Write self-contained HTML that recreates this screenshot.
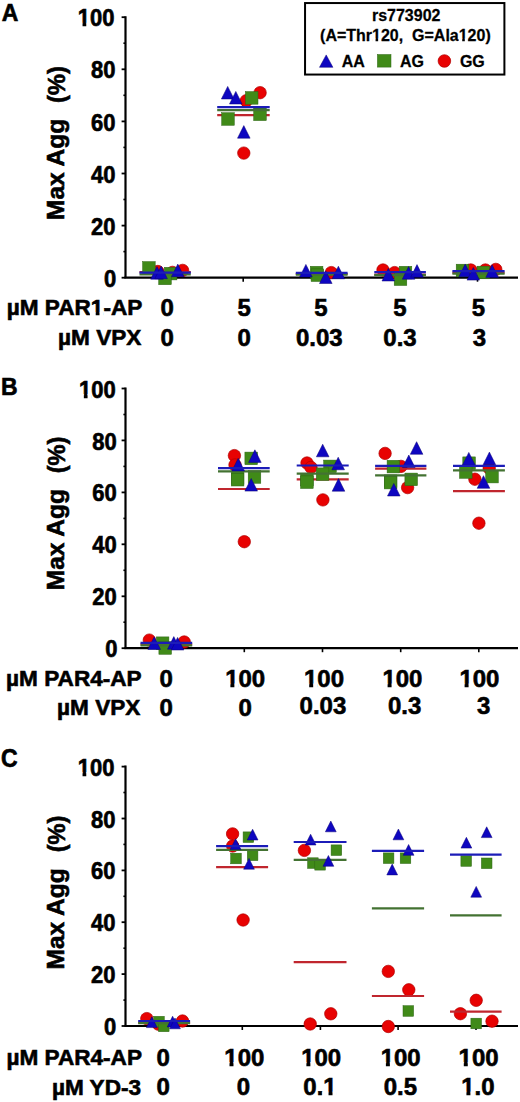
<!DOCTYPE html>
<html><head><meta charset="utf-8"><style>
html,body{margin:0;padding:0;background:#fff;width:520px;height:1102px;overflow:hidden}
svg{display:block}
</style></head><body>
<svg width="520" height="1102" viewBox="0 0 520 1102">
<g font-family='"Liberation Sans", sans-serif' font-weight="bold" fill="#000" stroke="#000" stroke-width="0.6">
<line x1="125.5" y1="16.2" x2="125.5" y2="277.7" stroke="#000" stroke-width="2.2"/>
<line x1="124.4" y1="277.7" x2="518" y2="277.7" stroke="#000" stroke-width="2.2"/>
<line x1="121.6" y1="277.7" x2="125.5" y2="277.7" stroke="#000" stroke-width="1.8"/>
<g transform="translate(116.30 286.80) scale(1.0 1.06)"><text font-size="22" text-anchor="end" >0</text>
</g>
<line x1="123.4" y1="251.6" x2="125.5" y2="251.6" stroke="#000" stroke-width="1.6"/>
<line x1="121.6" y1="225.6" x2="125.5" y2="225.6" stroke="#000" stroke-width="1.8"/>
<g transform="translate(115.40 234.70) scale(1.0 1.06)"><text font-size="22" text-anchor="end" >20</text>
</g>
<line x1="123.4" y1="199.5" x2="125.5" y2="199.5" stroke="#000" stroke-width="1.6"/>
<line x1="121.6" y1="173.5" x2="125.5" y2="173.5" stroke="#000" stroke-width="1.8"/>
<g transform="translate(115.40 182.60) scale(1.0 1.06)"><text font-size="22" text-anchor="end" >40</text>
</g>
<line x1="123.4" y1="147.4" x2="125.5" y2="147.4" stroke="#000" stroke-width="1.6"/>
<line x1="121.6" y1="121.4" x2="125.5" y2="121.4" stroke="#000" stroke-width="1.8"/>
<g transform="translate(115.40 130.50) scale(1.0 1.06)"><text font-size="22" text-anchor="end" >60</text>
</g>
<line x1="123.4" y1="95.3" x2="125.5" y2="95.3" stroke="#000" stroke-width="1.6"/>
<line x1="121.6" y1="69.3" x2="125.5" y2="69.3" stroke="#000" stroke-width="1.8"/>
<g transform="translate(115.40 78.40) scale(1.0 1.06)"><text font-size="22" text-anchor="end" >80</text>
</g>
<line x1="123.4" y1="43.2" x2="125.5" y2="43.2" stroke="#000" stroke-width="1.6"/>
<line x1="121.6" y1="17.2" x2="125.5" y2="17.2" stroke="#000" stroke-width="1.8"/>
<g transform="translate(114.50 26.30) scale(1.0 1.06)"><text font-size="22" text-anchor="end" id="t0" >100</text>
<rect x="-37.59" y="-3.27" width="5.63" height="4.82" fill="#fff" stroke="none"/>
<rect x="-28.24" y="-3.27" width="4.09" height="4.82" fill="#fff" stroke="none"/>
</g>
<line x1="165.1" y1="277.7" x2="165.1" y2="281.7" stroke="#000" stroke-width="1.6"/>
<line x1="243.2" y1="277.7" x2="243.2" y2="281.7" stroke="#000" stroke-width="1.6"/>
<line x1="321.3" y1="277.7" x2="321.3" y2="281.7" stroke="#000" stroke-width="1.6"/>
<line x1="399.4" y1="277.7" x2="399.4" y2="281.7" stroke="#000" stroke-width="1.6"/>
<line x1="477.5" y1="277.7" x2="477.5" y2="281.7" stroke="#000" stroke-width="1.6"/>
<g transform="translate(1.80 21.00) scale(1.0 1.07)"><text font-size="23" text-anchor="start" >A</text>
</g>
<text x="0" y="0" font-size="24.5" text-anchor="start" transform="translate(64.2 219.97) rotate(-90)">Max Agg</text>
<text x="0" y="0" font-size="23.6" text-anchor="end" transform="translate(65.3 66.24) rotate(-90)">(%)</text>
<g transform="translate(142.30 315.30) scale(1.0 0.985)"><text font-size="22.6" text-anchor="end" id="t1" >&#181;M PAR1-AP</text>
<rect x="-52.38" y="-3.34" width="5.79" height="4.92" fill="#fff" stroke="none"/>
<rect x="-42.80" y="-3.34" width="4.20" height="4.92" fill="#fff" stroke="none"/>
</g>
<g transform="translate(141.40 344.50) scale(1.0 0.985)"><text font-size="22.6" text-anchor="end" >&#181;M VPX</text>
</g>
<g transform="translate(167.10 316.00) scale(1.0 1.02)"><text font-size="24" text-anchor="middle" >0</text>
</g>
<g transform="translate(244.10 316.00) scale(1.0 1.02)"><text font-size="24" text-anchor="middle" >5</text>
</g>
<g transform="translate(320.80 316.00) scale(1.0 1.02)"><text font-size="24" text-anchor="middle" >5</text>
</g>
<g transform="translate(400.00 316.00) scale(1.0 1.02)"><text font-size="24" text-anchor="middle" >5</text>
</g>
<g transform="translate(478.50 316.00) scale(1.0 1.02)"><text font-size="24" text-anchor="middle" >5</text>
</g>
<g transform="translate(167.10 346.00) scale(1.0 1.02)"><text font-size="24" text-anchor="middle" >0</text>
</g>
<g transform="translate(244.10 346.00) scale(1.0 1.02)"><text font-size="24" text-anchor="middle" >0</text>
</g>
<g transform="translate(319.30 346.00) scale(1.0 1.02)"><text font-size="24" text-anchor="middle" >0.03</text>
</g>
<g transform="translate(400.00 346.00) scale(1.0 1.02)"><text font-size="24" text-anchor="middle" >0.3</text>
</g>
<g transform="translate(479.40 346.00) scale(1.0 1.02)"><text font-size="24" text-anchor="middle" >3</text>
</g>
<line x1="125.5" y1="387.5" x2="125.5" y2="648.2" stroke="#000" stroke-width="2.2"/>
<line x1="124.4" y1="648.2" x2="518" y2="648.2" stroke="#000" stroke-width="2.2"/>
<line x1="121.6" y1="648.2" x2="125.5" y2="648.2" stroke="#000" stroke-width="1.8"/>
<g transform="translate(117.60 657.30) scale(1.0 1.06)"><text font-size="22" text-anchor="end" >0</text>
</g>
<line x1="123.4" y1="622.2" x2="125.5" y2="622.2" stroke="#000" stroke-width="1.6"/>
<line x1="121.6" y1="596.3" x2="125.5" y2="596.3" stroke="#000" stroke-width="1.8"/>
<g transform="translate(116.70 605.36) scale(1.0 1.06)"><text font-size="22" text-anchor="end" >20</text>
</g>
<line x1="123.4" y1="570.3" x2="125.5" y2="570.3" stroke="#000" stroke-width="1.6"/>
<line x1="121.6" y1="544.3" x2="125.5" y2="544.3" stroke="#000" stroke-width="1.8"/>
<g transform="translate(116.70 553.42) scale(1.0 1.06)"><text font-size="22" text-anchor="end" >40</text>
</g>
<line x1="123.4" y1="518.4" x2="125.5" y2="518.4" stroke="#000" stroke-width="1.6"/>
<line x1="121.6" y1="492.4" x2="125.5" y2="492.4" stroke="#000" stroke-width="1.8"/>
<g transform="translate(116.70 501.48) scale(1.0 1.06)"><text font-size="22" text-anchor="end" >60</text>
</g>
<line x1="123.4" y1="466.4" x2="125.5" y2="466.4" stroke="#000" stroke-width="1.6"/>
<line x1="121.6" y1="440.4" x2="125.5" y2="440.4" stroke="#000" stroke-width="1.8"/>
<g transform="translate(116.70 449.54) scale(1.0 1.06)"><text font-size="22" text-anchor="end" >80</text>
</g>
<line x1="123.4" y1="414.5" x2="125.5" y2="414.5" stroke="#000" stroke-width="1.6"/>
<line x1="121.6" y1="388.5" x2="125.5" y2="388.5" stroke="#000" stroke-width="1.8"/>
<g transform="translate(115.80 397.60) scale(1.0 1.06)"><text font-size="22" text-anchor="end" id="t2" >100</text>
<rect x="-37.59" y="-3.27" width="5.63" height="4.82" fill="#fff" stroke="none"/>
<rect x="-28.24" y="-3.27" width="4.09" height="4.82" fill="#fff" stroke="none"/>
</g>
<line x1="166.2" y1="648.2" x2="166.2" y2="652.2" stroke="#000" stroke-width="1.6"/>
<line x1="244.3" y1="648.2" x2="244.3" y2="652.2" stroke="#000" stroke-width="1.6"/>
<line x1="322.5" y1="648.2" x2="322.5" y2="652.2" stroke="#000" stroke-width="1.6"/>
<line x1="400.7" y1="648.2" x2="400.7" y2="652.2" stroke="#000" stroke-width="1.6"/>
<line x1="478.8" y1="648.2" x2="478.8" y2="652.2" stroke="#000" stroke-width="1.6"/>
<g transform="translate(1.00 395.20) scale(1.0 1.07)"><text font-size="23" text-anchor="start" >B</text>
</g>
<text x="0" y="0" font-size="24.5" text-anchor="start" transform="translate(64.2 590.27) rotate(-90)">Max Agg</text>
<text x="0" y="0" font-size="23.6" text-anchor="end" transform="translate(65.3 436.54) rotate(-90)">(%)</text>
<g transform="translate(141.70 685.80) scale(1.0 0.985)"><text font-size="22.6" text-anchor="end" >&#181;M PAR4-AP</text>
</g>
<g transform="translate(140.40 715.30) scale(1.0 0.985)"><text font-size="22.6" text-anchor="end" >&#181;M VPX</text>
</g>
<g transform="translate(166.20 687.20) scale(1.0 1.02)"><text font-size="24" text-anchor="middle" >0</text>
</g>
<g transform="translate(245.20 687.20) scale(1.0 1.02)"><text font-size="24" text-anchor="middle" id="t3" >100</text>
<rect x="-20.95" y="-3.52" width="6.14" height="5.17" fill="#fff" stroke="none"/>
<rect x="-10.83" y="-3.52" width="4.46" height="5.17" fill="#fff" stroke="none"/>
</g>
<g transform="translate(324.00 687.20) scale(1.0 1.02)"><text font-size="24" text-anchor="middle" id="t4" >100</text>
<rect x="-20.95" y="-3.52" width="6.14" height="5.17" fill="#fff" stroke="none"/>
<rect x="-10.83" y="-3.52" width="4.46" height="5.17" fill="#fff" stroke="none"/>
</g>
<g transform="translate(402.40 687.20) scale(1.0 1.02)"><text font-size="24" text-anchor="middle" id="t5" >100</text>
<rect x="-20.95" y="-3.52" width="6.14" height="5.17" fill="#fff" stroke="none"/>
<rect x="-10.83" y="-3.52" width="4.46" height="5.17" fill="#fff" stroke="none"/>
</g>
<g transform="translate(479.40 687.20) scale(1.0 1.02)"><text font-size="24" text-anchor="middle" id="t6" >100</text>
<rect x="-20.95" y="-3.52" width="6.14" height="5.17" fill="#fff" stroke="none"/>
<rect x="-10.83" y="-3.52" width="4.46" height="5.17" fill="#fff" stroke="none"/>
</g>
<g transform="translate(166.20 716.40) scale(1.0 1.02)"><text font-size="24" text-anchor="middle" >0</text>
</g>
<g transform="translate(245.20 716.40) scale(1.0 1.02)"><text font-size="24" text-anchor="middle" >0</text>
</g>
<g transform="translate(322.90 714.20) scale(1.0 1.02)"><text font-size="24" text-anchor="middle" >0.03</text>
</g>
<g transform="translate(404.70 714.20) scale(1.0 1.02)"><text font-size="24" text-anchor="middle" >0.3</text>
</g>
<g transform="translate(483.70 714.20) scale(1.0 1.02)"><text font-size="24" text-anchor="middle" >3</text>
</g>
<line x1="125.5" y1="765.6" x2="125.5" y2="1026.0" stroke="#000" stroke-width="2.2"/>
<line x1="124.4" y1="1026.0" x2="518" y2="1026.0" stroke="#000" stroke-width="2.2"/>
<line x1="121.6" y1="1026.0" x2="125.5" y2="1026.0" stroke="#000" stroke-width="1.8"/>
<g transform="translate(116.30 1035.10) scale(1.0 1.06)"><text font-size="22" text-anchor="end" >0</text>
</g>
<line x1="123.4" y1="1000.1" x2="125.5" y2="1000.1" stroke="#000" stroke-width="1.6"/>
<line x1="121.6" y1="974.1" x2="125.5" y2="974.1" stroke="#000" stroke-width="1.8"/>
<g transform="translate(115.40 983.22) scale(1.0 1.06)"><text font-size="22" text-anchor="end" >20</text>
</g>
<line x1="123.4" y1="948.2" x2="125.5" y2="948.2" stroke="#000" stroke-width="1.6"/>
<line x1="121.6" y1="922.2" x2="125.5" y2="922.2" stroke="#000" stroke-width="1.8"/>
<g transform="translate(115.40 931.34) scale(1.0 1.06)"><text font-size="22" text-anchor="end" >40</text>
</g>
<line x1="123.4" y1="896.3" x2="125.5" y2="896.3" stroke="#000" stroke-width="1.6"/>
<line x1="121.6" y1="870.4" x2="125.5" y2="870.4" stroke="#000" stroke-width="1.8"/>
<g transform="translate(115.40 879.46) scale(1.0 1.06)"><text font-size="22" text-anchor="end" >60</text>
</g>
<line x1="123.4" y1="844.4" x2="125.5" y2="844.4" stroke="#000" stroke-width="1.6"/>
<line x1="121.6" y1="818.5" x2="125.5" y2="818.5" stroke="#000" stroke-width="1.8"/>
<g transform="translate(115.40 827.58) scale(1.0 1.06)"><text font-size="22" text-anchor="end" >80</text>
</g>
<line x1="123.4" y1="792.5" x2="125.5" y2="792.5" stroke="#000" stroke-width="1.6"/>
<line x1="121.6" y1="766.6" x2="125.5" y2="766.6" stroke="#000" stroke-width="1.8"/>
<g transform="translate(114.50 775.70) scale(1.0 1.06)"><text font-size="22" text-anchor="end" id="t7" >100</text>
<rect x="-37.59" y="-3.27" width="5.63" height="4.82" fill="#fff" stroke="none"/>
<rect x="-28.24" y="-3.27" width="4.09" height="4.82" fill="#fff" stroke="none"/>
</g>
<line x1="164.2" y1="1026.0" x2="164.2" y2="1030.0" stroke="#000" stroke-width="1.6"/>
<line x1="242.3" y1="1026.0" x2="242.3" y2="1030.0" stroke="#000" stroke-width="1.6"/>
<line x1="320.4" y1="1026.0" x2="320.4" y2="1030.0" stroke="#000" stroke-width="1.6"/>
<line x1="398.1" y1="1026.0" x2="398.1" y2="1030.0" stroke="#000" stroke-width="1.6"/>
<line x1="476.0" y1="1026.0" x2="476.0" y2="1030.0" stroke="#000" stroke-width="1.6"/>
<g transform="translate(1.00 766.50) scale(1.0 1.1)"><text font-size="23" text-anchor="start" >C</text>
</g>
<text x="0" y="0" font-size="24.5" text-anchor="start" transform="translate(64.2 969.47) rotate(-90)">Max Agg</text>
<text x="0" y="0" font-size="23.6" text-anchor="end" transform="translate(65.3 815.64) rotate(-90)">(%)</text>
<g transform="translate(142.00 1064.50) scale(1.0 0.985)"><text font-size="22.6" text-anchor="end" >&#181;M PAR4-AP</text>
</g>
<g transform="translate(141.10 1094.50) scale(1.0 0.985)"><text font-size="22.6" text-anchor="end" >&#181;M YD-3</text>
</g>
<g transform="translate(163.20 1065.70) scale(1.0 1.02)"><text font-size="24" text-anchor="middle" >0</text>
</g>
<g transform="translate(244.30 1065.70) scale(1.0 1.02)"><text font-size="24" text-anchor="middle" id="t8" >100</text>
<rect x="-20.95" y="-3.52" width="6.14" height="5.17" fill="#fff" stroke="none"/>
<rect x="-10.83" y="-3.52" width="4.46" height="5.17" fill="#fff" stroke="none"/>
</g>
<g transform="translate(321.20 1065.70) scale(1.0 1.02)"><text font-size="24" text-anchor="middle" id="t9" >100</text>
<rect x="-20.95" y="-3.52" width="6.14" height="5.17" fill="#fff" stroke="none"/>
<rect x="-10.83" y="-3.52" width="4.46" height="5.17" fill="#fff" stroke="none"/>
</g>
<g transform="translate(400.70 1065.70) scale(1.0 1.02)"><text font-size="24" text-anchor="middle" id="t10" >100</text>
<rect x="-20.95" y="-3.52" width="6.14" height="5.17" fill="#fff" stroke="none"/>
<rect x="-10.83" y="-3.52" width="4.46" height="5.17" fill="#fff" stroke="none"/>
</g>
<g transform="translate(478.60 1065.70) scale(1.0 1.02)"><text font-size="24" text-anchor="middle" id="t11" >100</text>
<rect x="-20.95" y="-3.52" width="6.14" height="5.17" fill="#fff" stroke="none"/>
<rect x="-10.83" y="-3.52" width="4.46" height="5.17" fill="#fff" stroke="none"/>
</g>
<g transform="translate(163.20 1095.30) scale(1.0 1.02)"><text font-size="24" text-anchor="middle" >0</text>
</g>
<g transform="translate(243.50 1095.30) scale(1.0 1.02)"><text font-size="24" text-anchor="middle" >0</text>
</g>
<g transform="translate(320.00 1095.30) scale(1.0 1.02)"><text font-size="24" text-anchor="middle" id="t12" >0.1</text>
<rect x="2.39" y="-3.52" width="6.14" height="5.17" fill="#fff" stroke="none"/>
<rect x="12.50" y="-3.52" width="4.46" height="5.17" fill="#fff" stroke="none"/>
</g>
<g transform="translate(400.40 1095.30) scale(1.0 1.02)"><text font-size="24" text-anchor="middle" >0.5</text>
</g>
<g transform="translate(477.90 1095.30) scale(1.0 1.02)"><text font-size="24" text-anchor="middle" id="t13" >1.0</text>
<rect x="-17.61" y="-3.52" width="6.14" height="5.17" fill="#fff" stroke="none"/>
<rect x="-7.50" y="-3.52" width="4.46" height="5.17" fill="#fff" stroke="none"/>
</g>
</g>
<rect x="305.05" y="3.05" width="199.35" height="71.5" fill="#fff" stroke="#000" stroke-width="2"/>
<g font-family='"Liberation Sans", sans-serif' font-weight="bold" fill="#000" font-size="16" stroke="#000" stroke-width="0.25">
<g transform="translate(406.20 20.70) scale(1.0 1.04)"><text font-size="16" text-anchor="middle" >rs773902</text>
</g>
<g transform="translate(405.40 41.00) scale(1.0 1.04)"><text font-size="16" text-anchor="middle" id="t14" >(A=Thr120,&#160; G=Ala120)</text>
<rect x="-33.22" y="-2.32" width="3.38" height="3.40" fill="#fff" stroke="none"/>
<rect x="-27.25" y="-2.32" width="2.98" height="3.40" fill="#fff" stroke="none"/>
<rect x="53.43" y="-2.32" width="3.38" height="3.40" fill="#fff" stroke="none"/>
<rect x="59.41" y="-2.32" width="2.98" height="3.40" fill="#fff" stroke="none"/>
</g>
<g transform="translate(341.80 66.80) scale(1.0 1.04)"><text font-size="16" text-anchor="start" >AA</text>
</g>
<g transform="translate(400.00 66.80) scale(1.0 1.04)"><text font-size="16" text-anchor="start" >AG</text>
</g>
<g transform="translate(459.90 66.80) scale(1.0 1.04)"><text font-size="16" text-anchor="start" >GG</text>
</g>
</g>
<path d="M326.2 54.9L332.9 67.3L319.5 67.3Z" fill="#0e06c0" stroke="#0a0078" stroke-width="0.5"/>
<rect x="377.4" y="54.5" width="13.6" height="12.6" fill="#408a18" stroke="#2c6414" stroke-width="0.5"/>
<circle cx="444.4" cy="61.0" r="6.3" fill="#e80202" stroke="#b00000" stroke-width="0.7"/>
<circle cx="157.8" cy="271.5" r="6.2" fill="#e80202" stroke="#b00000" stroke-width="0.7"/>
<circle cx="172.5" cy="272.4" r="6.2" fill="#e80202" stroke="#b00000" stroke-width="0.7"/>
<circle cx="182.6" cy="270.4" r="6.2" fill="#e80202" stroke="#b00000" stroke-width="0.7"/>
<line x1="139.5" y1="272.0" x2="190.8" y2="272.0" stroke="#c0262e" stroke-width="2.2"/>
<rect x="142.6" y="261.6" width="12.6" height="12.6" fill="#408a18" stroke="#2c6414" stroke-width="0.5"/>
<rect x="164.3" y="267.3" width="12.6" height="12.6" fill="#408a18" stroke="#2c6414" stroke-width="0.5"/>
<rect x="158.7" y="272.1" width="12.6" height="12.6" fill="#408a18" stroke="#2c6414" stroke-width="0.5"/>
<line x1="139.5" y1="274.3" x2="190.8" y2="274.3" stroke="#437232" stroke-width="2.2"/>
<path d="M157.0 266.6L163.3 279.2L150.7 279.2Z" fill="#0e06c0" stroke="#0a0078" stroke-width="0.5"/>
<path d="M161.1 266.1L167.4 278.7L154.8 278.7Z" fill="#0e06c0" stroke="#0a0078" stroke-width="0.5"/>
<path d="M177.8 264.1L184.1 276.7L171.5 276.7Z" fill="#0e06c0" stroke="#0a0078" stroke-width="0.5"/>
<line x1="139.5" y1="272.6" x2="190.8" y2="272.6" stroke="#1c1cb8" stroke-width="2.2"/>
<circle cx="246.2" cy="100.8" r="6.2" fill="#e80202" stroke="#b00000" stroke-width="0.7"/>
<circle cx="260.1" cy="92.7" r="6.2" fill="#e80202" stroke="#b00000" stroke-width="0.7"/>
<circle cx="243.8" cy="153.1" r="6.2" fill="#e80202" stroke="#b00000" stroke-width="0.7"/>
<line x1="217.2" y1="115.2" x2="269.7" y2="115.2" stroke="#c0262e" stroke-width="2.2"/>
<rect x="245.4" y="91.6" width="12.6" height="12.6" fill="#408a18" stroke="#2c6414" stroke-width="0.5"/>
<rect x="221.7" y="112.7" width="12.6" height="12.6" fill="#408a18" stroke="#2c6414" stroke-width="0.5"/>
<rect x="253.7" y="108.0" width="12.6" height="12.6" fill="#408a18" stroke="#2c6414" stroke-width="0.5"/>
<line x1="217.2" y1="110.2" x2="269.7" y2="110.2" stroke="#437232" stroke-width="2.2"/>
<path d="M227.7 86.4L234.0 99.0L221.4 99.0Z" fill="#0e06c0" stroke="#0a0078" stroke-width="0.5"/>
<path d="M235.8 91.4L242.1 104.0L229.5 104.0Z" fill="#0e06c0" stroke="#0a0078" stroke-width="0.5"/>
<path d="M243.8 125.6L250.1 138.2L237.5 138.2Z" fill="#0e06c0" stroke="#0a0078" stroke-width="0.5"/>
<line x1="217.2" y1="107.1" x2="269.7" y2="107.1" stroke="#1c1cb8" stroke-width="2.2"/>
<circle cx="331.3" cy="272.6" r="6.2" fill="#e80202" stroke="#b00000" stroke-width="0.7"/>
<line x1="295.8" y1="274.0" x2="347.6" y2="274.0" stroke="#c0262e" stroke-width="2.2"/>
<rect x="310.3" y="266.3" width="12.6" height="12.6" fill="#408a18" stroke="#2c6414" stroke-width="0.5"/>
<rect x="311.1" y="268.9" width="12.6" height="12.6" fill="#408a18" stroke="#2c6414" stroke-width="0.5"/>
<line x1="295.8" y1="274.6" x2="347.6" y2="274.6" stroke="#437232" stroke-width="2.2"/>
<path d="M305.9 264.4L312.2 277.0L299.6 277.0Z" fill="#0e06c0" stroke="#0a0078" stroke-width="0.5"/>
<path d="M325.8 270.9L332.1 283.5L319.5 283.5Z" fill="#0e06c0" stroke="#0a0078" stroke-width="0.5"/>
<path d="M338.4 266.2L344.7 278.8L332.1 278.8Z" fill="#0e06c0" stroke="#0a0078" stroke-width="0.5"/>
<line x1="295.8" y1="272.8" x2="347.6" y2="272.8" stroke="#1c1cb8" stroke-width="2.2"/>
<circle cx="383.0" cy="270.0" r="6.2" fill="#e80202" stroke="#b00000" stroke-width="0.7"/>
<circle cx="394.6" cy="272.6" r="6.2" fill="#e80202" stroke="#b00000" stroke-width="0.7"/>
<line x1="374.3" y1="274.6" x2="425.9" y2="274.6" stroke="#c0262e" stroke-width="2.2"/>
<rect x="399.2" y="266.3" width="12.6" height="12.6" fill="#408a18" stroke="#2c6414" stroke-width="0.5"/>
<rect x="394.2" y="272.9" width="12.6" height="12.6" fill="#408a18" stroke="#2c6414" stroke-width="0.5"/>
<line x1="374.3" y1="275.2" x2="425.9" y2="275.2" stroke="#437232" stroke-width="2.2"/>
<path d="M388.3 268.4L394.6 281.0L382.0 281.0Z" fill="#0e06c0" stroke="#0a0078" stroke-width="0.5"/>
<path d="M408.6 266.6L414.9 279.2L402.3 279.2Z" fill="#0e06c0" stroke="#0a0078" stroke-width="0.5"/>
<path d="M417.0 264.6L423.3 277.2L410.7 277.2Z" fill="#0e06c0" stroke="#0a0078" stroke-width="0.5"/>
<line x1="374.3" y1="272.2" x2="425.9" y2="272.2" stroke="#1c1cb8" stroke-width="2.2"/>
<circle cx="470.8" cy="270.0" r="6.2" fill="#e80202" stroke="#b00000" stroke-width="0.7"/>
<circle cx="485.4" cy="270.0" r="6.2" fill="#e80202" stroke="#b00000" stroke-width="0.7"/>
<circle cx="495.8" cy="269.4" r="6.2" fill="#e80202" stroke="#b00000" stroke-width="0.7"/>
<line x1="452.4" y1="272.6" x2="504.6" y2="272.6" stroke="#c0262e" stroke-width="2.2"/>
<rect x="456.2" y="264.2" width="12.6" height="12.6" fill="#408a18" stroke="#2c6414" stroke-width="0.5"/>
<rect x="477.0" y="266.2" width="12.6" height="12.6" fill="#408a18" stroke="#2c6414" stroke-width="0.5"/>
<line x1="452.4" y1="273.6" x2="504.6" y2="273.6" stroke="#437232" stroke-width="2.2"/>
<path d="M465.2 264.1L471.5 276.7L458.9 276.7Z" fill="#0e06c0" stroke="#0a0078" stroke-width="0.5"/>
<path d="M473.3 267.5L479.6 280.1L467.0 280.1Z" fill="#0e06c0" stroke="#0a0078" stroke-width="0.5"/>
<path d="M492.1 264.8L498.4 277.4L485.8 277.4Z" fill="#0e06c0" stroke="#0a0078" stroke-width="0.5"/>
<line x1="452.4" y1="271.1" x2="504.6" y2="271.1" stroke="#1c1cb8" stroke-width="2.2"/>
<circle cx="149.3" cy="640.1" r="6.2" fill="#e80202" stroke="#b00000" stroke-width="0.7"/>
<circle cx="184.2" cy="642.0" r="6.2" fill="#e80202" stroke="#b00000" stroke-width="0.7"/>
<line x1="140.5" y1="644.4" x2="192.2" y2="644.4" stroke="#c0262e" stroke-width="2.2"/>
<rect x="156.3" y="636.9" width="12.6" height="12.6" fill="#408a18" stroke="#2c6414" stroke-width="0.5"/>
<rect x="158.9" y="641.7" width="12.6" height="12.6" fill="#408a18" stroke="#2c6414" stroke-width="0.5"/>
<line x1="140.5" y1="645.3" x2="192.2" y2="645.3" stroke="#437232" stroke-width="2.2"/>
<path d="M154.2 636.8L160.5 649.4L147.9 649.4Z" fill="#0e06c0" stroke="#0a0078" stroke-width="0.5"/>
<path d="M173.8 636.6L180.1 649.2L167.5 649.2Z" fill="#0e06c0" stroke="#0a0078" stroke-width="0.5"/>
<path d="M177.6 637.4L183.9 650.0L171.3 650.0Z" fill="#0e06c0" stroke="#0a0078" stroke-width="0.5"/>
<line x1="140.5" y1="642.9" x2="192.2" y2="642.9" stroke="#1c1cb8" stroke-width="2.2"/>
<circle cx="234.4" cy="455.6" r="6.2" fill="#e80202" stroke="#b00000" stroke-width="0.7"/>
<circle cx="235.0" cy="465.0" r="6.2" fill="#e80202" stroke="#b00000" stroke-width="0.7"/>
<circle cx="244.3" cy="541.7" r="6.2" fill="#e80202" stroke="#b00000" stroke-width="0.7"/>
<line x1="218.0" y1="489.0" x2="269.7" y2="489.0" stroke="#c0262e" stroke-width="2.2"/>
<rect x="244.9" y="452.1" width="12.6" height="12.6" fill="#408a18" stroke="#2c6414" stroke-width="0.5"/>
<rect x="231.3" y="471.8" width="12.6" height="12.6" fill="#408a18" stroke="#2c6414" stroke-width="0.5"/>
<rect x="231.3" y="473.4" width="12.6" height="12.6" fill="#408a18" stroke="#2c6414" stroke-width="0.5"/>
<rect x="248.2" y="470.7" width="12.6" height="12.6" fill="#408a18" stroke="#2c6414" stroke-width="0.5"/>
<line x1="218.0" y1="471.3" x2="269.7" y2="471.3" stroke="#437232" stroke-width="2.2"/>
<path d="M254.9 449.8L261.2 462.4L248.6 462.4Z" fill="#0e06c0" stroke="#0a0078" stroke-width="0.5"/>
<path d="M238.2 458.3L244.5 470.9L231.9 470.9Z" fill="#0e06c0" stroke="#0a0078" stroke-width="0.5"/>
<path d="M251.2 478.5L257.5 491.1L244.9 491.1Z" fill="#0e06c0" stroke="#0a0078" stroke-width="0.5"/>
<line x1="218.0" y1="468.1" x2="269.7" y2="468.1" stroke="#1c1cb8" stroke-width="2.2"/>
<circle cx="307.0" cy="463.0" r="6.2" fill="#e80202" stroke="#b00000" stroke-width="0.7"/>
<circle cx="311.0" cy="467.4" r="6.2" fill="#e80202" stroke="#b00000" stroke-width="0.7"/>
<circle cx="322.9" cy="499.9" r="6.2" fill="#e80202" stroke="#b00000" stroke-width="0.7"/>
<line x1="296.7" y1="479.3" x2="348.7" y2="479.3" stroke="#c0262e" stroke-width="2.2"/>
<rect x="323.7" y="460.1" width="12.6" height="12.6" fill="#408a18" stroke="#2c6414" stroke-width="0.5"/>
<rect x="316.3" y="467.9" width="12.6" height="12.6" fill="#408a18" stroke="#2c6414" stroke-width="0.5"/>
<rect x="300.6" y="473.3" width="12.6" height="12.6" fill="#408a18" stroke="#2c6414" stroke-width="0.5"/>
<rect x="300.6" y="475.9" width="12.6" height="12.6" fill="#408a18" stroke="#2c6414" stroke-width="0.5"/>
<line x1="296.7" y1="473.6" x2="348.7" y2="473.6" stroke="#437232" stroke-width="2.2"/>
<path d="M322.7 444.2L329.0 456.8L316.4 456.8Z" fill="#0e06c0" stroke="#0a0078" stroke-width="0.5"/>
<path d="M338.2 457.2L344.5 469.8L331.9 469.8Z" fill="#0e06c0" stroke="#0a0078" stroke-width="0.5"/>
<path d="M338.5 478.6L344.8 491.2L332.2 491.2Z" fill="#0e06c0" stroke="#0a0078" stroke-width="0.5"/>
<line x1="296.7" y1="465.5" x2="348.7" y2="465.5" stroke="#1c1cb8" stroke-width="2.2"/>
<circle cx="385.1" cy="453.4" r="6.2" fill="#e80202" stroke="#b00000" stroke-width="0.7"/>
<circle cx="401.0" cy="466.4" r="6.2" fill="#e80202" stroke="#b00000" stroke-width="0.7"/>
<circle cx="407.6" cy="487.6" r="6.2" fill="#e80202" stroke="#b00000" stroke-width="0.7"/>
<line x1="375.1" y1="468.6" x2="426.4" y2="468.6" stroke="#c0262e" stroke-width="2.2"/>
<rect x="387.1" y="460.3" width="12.6" height="12.6" fill="#408a18" stroke="#2c6414" stroke-width="0.5"/>
<rect x="384.3" y="474.9" width="12.6" height="12.6" fill="#408a18" stroke="#2c6414" stroke-width="0.5"/>
<rect x="384.3" y="476.3" width="12.6" height="12.6" fill="#408a18" stroke="#2c6414" stroke-width="0.5"/>
<rect x="404.9" y="473.1" width="12.6" height="12.6" fill="#408a18" stroke="#2c6414" stroke-width="0.5"/>
<line x1="375.1" y1="475.4" x2="426.4" y2="475.4" stroke="#437232" stroke-width="2.2"/>
<path d="M416.6 441.7L422.9 454.3L410.3 454.3Z" fill="#0e06c0" stroke="#0a0078" stroke-width="0.5"/>
<path d="M408.8 455.0L415.1 467.6L402.5 467.6Z" fill="#0e06c0" stroke="#0a0078" stroke-width="0.5"/>
<path d="M393.8 483.4L400.1 496.0L387.5 496.0Z" fill="#0e06c0" stroke="#0a0078" stroke-width="0.5"/>
<line x1="375.1" y1="465.8" x2="426.4" y2="465.8" stroke="#1c1cb8" stroke-width="2.2"/>
<circle cx="489.2" cy="468.2" r="6.2" fill="#e80202" stroke="#b00000" stroke-width="0.7"/>
<circle cx="474.9" cy="479.2" r="6.2" fill="#e80202" stroke="#b00000" stroke-width="0.7"/>
<circle cx="478.9" cy="523.2" r="6.2" fill="#e80202" stroke="#b00000" stroke-width="0.7"/>
<line x1="453.0" y1="491.1" x2="504.9" y2="491.1" stroke="#c0262e" stroke-width="2.2"/>
<rect x="462.8" y="456.9" width="12.6" height="12.6" fill="#408a18" stroke="#2c6414" stroke-width="0.5"/>
<rect x="459.5" y="465.7" width="12.6" height="12.6" fill="#408a18" stroke="#2c6414" stroke-width="0.5"/>
<rect x="485.7" y="470.3" width="12.6" height="12.6" fill="#408a18" stroke="#2c6414" stroke-width="0.5"/>
<line x1="453.0" y1="470.3" x2="504.9" y2="470.3" stroke="#437232" stroke-width="2.2"/>
<path d="M468.8 452.4L475.1 465.0L462.5 465.0Z" fill="#0e06c0" stroke="#0a0078" stroke-width="0.5"/>
<path d="M489.4 452.1L495.7 464.7L483.1 464.7Z" fill="#0e06c0" stroke="#0a0078" stroke-width="0.5"/>
<path d="M483.5 475.7L489.8 488.3L477.2 488.3Z" fill="#0e06c0" stroke="#0a0078" stroke-width="0.5"/>
<line x1="453.0" y1="465.8" x2="504.9" y2="465.8" stroke="#1c1cb8" stroke-width="2.2"/>
<circle cx="146.8" cy="1018.6" r="6.2" fill="#e80202" stroke="#b00000" stroke-width="0.7"/>
<circle cx="182.5" cy="1021.0" r="6.2" fill="#e80202" stroke="#b00000" stroke-width="0.7"/>
<circle cx="158.4" cy="1024.2" r="6.2" fill="#e80202" stroke="#b00000" stroke-width="0.7"/>
<line x1="138.2" y1="1022.6" x2="190.1" y2="1022.6" stroke="#c0262e" stroke-width="2.2"/>
<rect x="153.7" y="1016.3" width="10.6" height="10.6" fill="#408a18" stroke="#2c6414" stroke-width="0.5"/>
<rect x="158.5" y="1021.1" width="10.6" height="10.6" fill="#408a18" stroke="#2c6414" stroke-width="0.5"/>
<line x1="138.2" y1="1023.2" x2="190.1" y2="1023.2" stroke="#437232" stroke-width="2.2"/>
<path d="M151.8 1016.8L157.2 1027.6L146.4 1027.6Z" fill="#0e06c0" stroke="#0a0078" stroke-width="0.5"/>
<path d="M172.6 1016.2L178.0 1027.0L167.2 1027.0Z" fill="#0e06c0" stroke="#0a0078" stroke-width="0.5"/>
<path d="M175.0 1018.0L180.4 1028.8L169.6 1028.8Z" fill="#0e06c0" stroke="#0a0078" stroke-width="0.5"/>
<line x1="138.2" y1="1021.0" x2="190.1" y2="1021.0" stroke="#1c1cb8" stroke-width="2.2"/>
<circle cx="232.6" cy="833.9" r="6.2" fill="#e80202" stroke="#b00000" stroke-width="0.7"/>
<circle cx="232.7" cy="846.0" r="6.2" fill="#e80202" stroke="#b00000" stroke-width="0.7"/>
<circle cx="243.1" cy="920.0" r="6.2" fill="#e80202" stroke="#b00000" stroke-width="0.7"/>
<line x1="216.1" y1="867.1" x2="268.1" y2="867.1" stroke="#c0262e" stroke-width="2.2"/>
<rect x="243.1" y="831.9" width="10.6" height="10.6" fill="#408a18" stroke="#2c6414" stroke-width="0.5"/>
<rect x="230.7" y="853.2" width="10.6" height="10.6" fill="#408a18" stroke="#2c6414" stroke-width="0.5"/>
<rect x="247.3" y="850.0" width="10.6" height="10.6" fill="#408a18" stroke="#2c6414" stroke-width="0.5"/>
<line x1="216.1" y1="849.9" x2="268.1" y2="849.9" stroke="#437232" stroke-width="2.2"/>
<path d="M252.6 829.2L258.0 840.0L247.2 840.0Z" fill="#0e06c0" stroke="#0a0078" stroke-width="0.5"/>
<path d="M235.6 838.8L241.0 849.6L230.2 849.6Z" fill="#0e06c0" stroke="#0a0078" stroke-width="0.5"/>
<path d="M249.0 858.4L254.4 869.2L243.6 869.2Z" fill="#0e06c0" stroke="#0a0078" stroke-width="0.5"/>
<line x1="216.1" y1="846.2" x2="268.1" y2="846.2" stroke="#1c1cb8" stroke-width="2.2"/>
<circle cx="304.4" cy="850.4" r="6.2" fill="#e80202" stroke="#b00000" stroke-width="0.7"/>
<circle cx="330.8" cy="1013.8" r="6.2" fill="#e80202" stroke="#b00000" stroke-width="0.7"/>
<circle cx="310.2" cy="1024.0" r="6.2" fill="#e80202" stroke="#b00000" stroke-width="0.7"/>
<line x1="293.7" y1="962.2" x2="346.5" y2="962.2" stroke="#c0262e" stroke-width="2.2"/>
<rect x="331.1" y="844.9" width="10.6" height="10.6" fill="#408a18" stroke="#2c6414" stroke-width="0.5"/>
<rect x="307.6" y="857.8" width="10.6" height="10.6" fill="#408a18" stroke="#2c6414" stroke-width="0.5"/>
<rect x="314.8" y="859.5" width="10.6" height="10.6" fill="#408a18" stroke="#2c6414" stroke-width="0.5"/>
<line x1="293.7" y1="859.8" x2="346.5" y2="859.8" stroke="#437232" stroke-width="2.2"/>
<path d="M330.8 821.0L336.2 831.8L325.4 831.8Z" fill="#0e06c0" stroke="#0a0078" stroke-width="0.5"/>
<path d="M310.6 834.2L316.0 845.0L305.2 845.0Z" fill="#0e06c0" stroke="#0a0078" stroke-width="0.5"/>
<path d="M328.4 855.5L333.8 866.3L323.0 866.3Z" fill="#0e06c0" stroke="#0a0078" stroke-width="0.5"/>
<line x1="293.7" y1="842.0" x2="346.5" y2="842.0" stroke="#1c1cb8" stroke-width="2.2"/>
<circle cx="388.3" cy="971.4" r="6.2" fill="#e80202" stroke="#b00000" stroke-width="0.7"/>
<circle cx="408.8" cy="989.8" r="6.2" fill="#e80202" stroke="#b00000" stroke-width="0.7"/>
<circle cx="388.3" cy="1026.5" r="6.2" fill="#e80202" stroke="#b00000" stroke-width="0.7"/>
<line x1="371.9" y1="996.0" x2="424.1" y2="996.0" stroke="#c0262e" stroke-width="2.2"/>
<rect x="383.3" y="852.9" width="10.6" height="10.6" fill="#408a18" stroke="#2c6414" stroke-width="0.5"/>
<rect x="400.2" y="852.9" width="10.6" height="10.6" fill="#408a18" stroke="#2c6414" stroke-width="0.5"/>
<rect x="403.0" y="1005.7" width="10.6" height="10.6" fill="#408a18" stroke="#2c6414" stroke-width="0.5"/>
<line x1="371.9" y1="908.3" x2="424.1" y2="908.3" stroke="#437232" stroke-width="2.2"/>
<path d="M398.4 829.0L403.8 839.8L393.0 839.8Z" fill="#0e06c0" stroke="#0a0078" stroke-width="0.5"/>
<path d="M408.6 844.5L414.0 855.3L403.2 855.3Z" fill="#0e06c0" stroke="#0a0078" stroke-width="0.5"/>
<path d="M392.2 864.1L397.6 874.9L386.8 874.9Z" fill="#0e06c0" stroke="#0a0078" stroke-width="0.5"/>
<line x1="371.9" y1="850.8" x2="424.1" y2="850.8" stroke="#1c1cb8" stroke-width="2.2"/>
<circle cx="476.2" cy="1000.3" r="6.2" fill="#e80202" stroke="#b00000" stroke-width="0.7"/>
<circle cx="460.4" cy="1013.7" r="6.2" fill="#e80202" stroke="#b00000" stroke-width="0.7"/>
<circle cx="492.0" cy="1021.2" r="6.2" fill="#e80202" stroke="#b00000" stroke-width="0.7"/>
<line x1="450.0" y1="1011.6" x2="501.6" y2="1011.6" stroke="#c0262e" stroke-width="2.2"/>
<rect x="460.9" y="855.7" width="10.6" height="10.6" fill="#408a18" stroke="#2c6414" stroke-width="0.5"/>
<rect x="481.4" y="858.0" width="10.6" height="10.6" fill="#408a18" stroke="#2c6414" stroke-width="0.5"/>
<rect x="470.9" y="1018.2" width="10.6" height="10.6" fill="#408a18" stroke="#2c6414" stroke-width="0.5"/>
<line x1="450.0" y1="915.3" x2="501.6" y2="915.3" stroke="#437232" stroke-width="2.2"/>
<path d="M486.7 826.8L492.1 837.6L481.3 837.6Z" fill="#0e06c0" stroke="#0a0078" stroke-width="0.5"/>
<path d="M466.4 837.3L471.8 848.1L461.0 848.1Z" fill="#0e06c0" stroke="#0a0078" stroke-width="0.5"/>
<path d="M476.2 886.4L481.6 897.2L470.8 897.2Z" fill="#0e06c0" stroke="#0a0078" stroke-width="0.5"/>
<line x1="450.0" y1="854.7" x2="501.6" y2="854.7" stroke="#1c1cb8" stroke-width="2.2"/>
</svg>
</body></html>
